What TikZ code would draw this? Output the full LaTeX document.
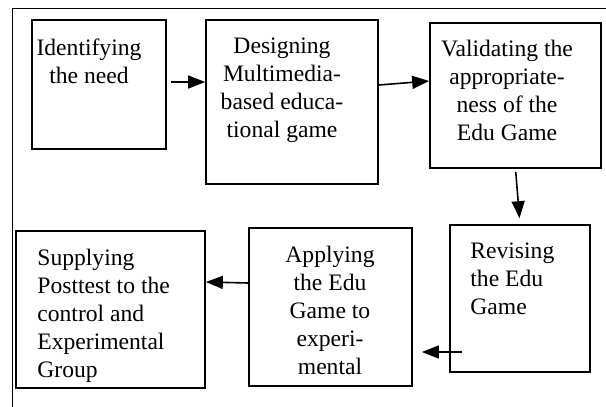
\documentclass[tikz,border=0pt]{standalone}
\usepackage{fontspec}
\setmainfont{Liberation Serif}
\usetikzlibrary{arrows.meta}

\tikzset{
  box/.style={draw=black, line width=0.85pt, inner sep=0pt},
  txt/.style={inner sep=0pt, font=\fontsize{11.8}{14}\selectfont},
  arr/.style={-{Triangle[length=8.5pt,width=6.5pt]}, line width=0.8pt}
}

\begin{document}
\begin{tikzpicture}[x=0.5pt, y=-0.5pt]
\useasboundingbox (0,0) rectangle (606,407);
% outer frame
\draw [black, line width=0.5pt] (12,407) -- (12,8) -- (606,8);
% boxes
\node [box, minimum width=67pt, minimum height=64.5pt] (need) at (99,84.5) {};
\node [box, minimum width=86pt, minimum height=82pt] (design) at (292,102) {};
\node [box, minimum width=85.5pt, minimum height=72.5pt] (valid) at (515.5,95.5) {};
\node [box, minimum width=70pt, minimum height=73.5pt] (revise) at (520,298.5) {};
\node [box, minimum width=81.5pt, minimum height=79pt] (apply) at (330.5,307) {};
\node [box, minimum width=94.5pt, minimum height=78.5pt] (supply) at (110.5,309.5) {};
% texts
\node [txt, anchor=north, align=center] at (89,38) {Identifying\\the need};
\node [txt, anchor=north, align=center] at (282,37) {Designing\\Multimedia-\\based educa-\\tional game};
\node [txt, anchor=north, align=center] at (507,40) {Validating the\\appropriate-\\ness of the\\Edu Game};
\node [txt, anchor=north west, align=left] at (470,242) {Revising\\the Edu\\Game};
\node [txt, anchor=north, align=center] at (330,246) {Applying\\the Edu\\Game to\\experi-\\mental};
\node [txt, anchor=north west, align=left] at (37,249) {Supplying\\Posttest to the\\control and\\Experimental\\Group};
% arrows
\coordinate (revtail) at (462,352);
\draw [arr, shorten <=2pt] (need.east |- 0,82) -- (design.west |- 0,82);
\draw [arr] (design.east |- 0,85) -- (valid.west |- 0,81);
\draw [arr, shorten <=1.5pt, shorten >=3pt] (valid.south) -- (revise.north);
\draw [arr, shorten >=4.5pt] (revtail) -- (apply.east |- revtail);
\draw [arr] (apply.west |- 0,283) -- (supply.east |- 0,282);
\end{tikzpicture}
\end{document}
